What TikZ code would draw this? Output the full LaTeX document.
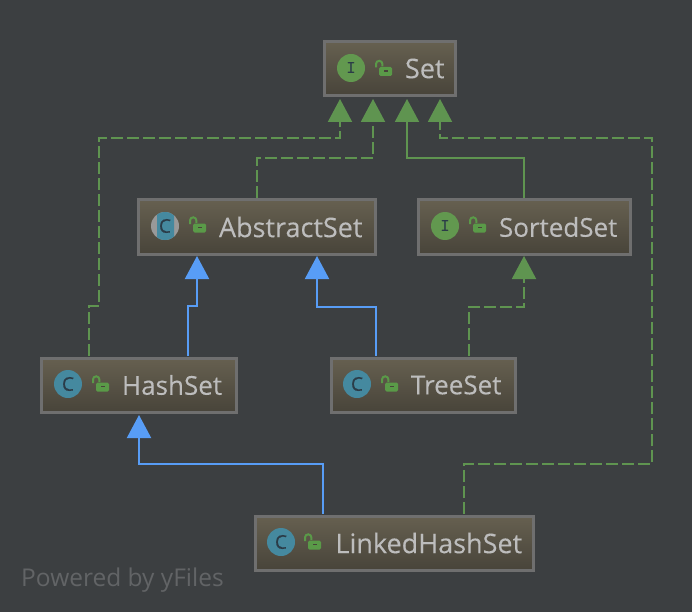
\documentclass[tikz,border=0pt]{standalone}
\usepackage{fontspec}
\setmainfont{Open Sans}
\newfontfamily\lblfont[FakeBold=0.12]{Open Sans}
\newfontfamily\iconfont[FakeBold=0.5]{Open Sans}
\usetikzlibrary{arrows.meta,positioning}
\definecolor{bgc}{HTML}{3C3F41}
\definecolor{boxtop}{HTML}{666050}
\definecolor{boxbot}{HTML}{48443A}
\definecolor{boxline}{HTML}{6F6F6F}
\definecolor{txtc}{HTML}{BDBDBD}
\definecolor{grn}{HTML}{62984F}
\definecolor{grnline}{HTML}{5F9450}
\definecolor{lockg}{HTML}{5A9A48}
\definecolor{blu}{HTML}{589DF6}
\definecolor{teal}{HTML}{45899F}
\definecolor{iconink}{HTML}{2B3C48}
\definecolor{wmark}{HTML}{626466}
\tikzset{
  x=1pt,y=-1pt,
  umlbox/.style={draw=boxline,line width=3pt,top color=boxtop,bottom color=boxbot,
    minimum height=54pt,inner sep=0pt,anchor=west,align=left,text=txtc,
    font=\lblfont\fontsize{27}{30}\selectfont},
  narrowlabel/.style={font=\lblfont\fontsize{26}{30}\selectfont},
  badge/.style={circle,minimum size=28pt,inner sep=0pt,text=iconink,font=\iconfont\fontsize{19}{22}\selectfont},
  ibadge/.style={badge,fill=grn,font=\fontsize{18}{20}\selectfont\bfseries\ttfamily},
  cbadge/.style={badge,fill=teal},
  realize/.style={draw=grnline,line width=2pt,dash pattern=on 12pt off 4pt,-{Triangle[length=23pt,width=24pt,fill=grnline,sep=0pt]}},
  extendg/.style={draw=grnline,line width=2pt,-{Triangle[length=23pt,width=24pt,fill=grnline]}},
  extendb/.style={draw=blu,line width=2pt,-{Triangle[length=23pt,width=24pt,fill=blu]}},
  lockbody/.style={fill=lockg,rounded corners=1.5pt},
  lockarc/.style={draw=lockg,line width=2pt},
  watermark/.style={text=wmark,anchor=west,inner sep=0pt,font=\fontsize{24.5}{28}\selectfont}
}
% \lockat{name}{x}{y}: small open padlock, (x,y) = centre of its body
\newcommand{\lockat}[3]{%
  \coordinate (#1) at (#2,#3);
  \draw[lockarc] ([shift={(-7,-3)}]#1) -- ++(0,-3.5) arc[start angle=180,end angle=0,radius=3.2pt] -- ++(0,2.5);
  \fill[lockbody] ([shift={(-4,-3.5)}]#1) rectangle ([shift={(9,5.5)}]#1);
  \fill[boxbot] ([shift={(1,-0.5)}]#1) rectangle ([shift={(4.5,1.2)}]#1);
}
\begin{document}
\begin{tikzpicture}
\path[fill=bgc,use as bounding box] (0,0) rectangle (692,612);

\node[umlbox,text width=131pt] (set) at (323,68.5) {\hspace*{80.5pt}Set};
\node[umlbox,text width=237.5pt] (abs) at (136.5,227) {\hspace*{81pt}\mbox{AbstractSet}};
\node[umlbox,narrowlabel,text width=212pt] (sorted) at (416.5,227) {\hspace*{81pt}\mbox{SortedSet}};
\node[umlbox,narrowlabel,text width=195pt] (hash) at (40,385) {\hspace*{80.5pt}\mbox{HashSet}};
\node[umlbox,narrowlabel,text width=184pt] (tree) at (329.5,385) {\hspace*{80pt}\mbox{TreeSet}};
\node[umlbox,text width=278.5pt] (linked) at (253.5,543) {\hspace*{80.5pt}\mbox{LinkedHashSet}};

% icons
\node[ibadge] (iset) at (351,68) {I};
\lockat{lset}{383}{70.5}
\begin{scope}
  \fill[black!40!white] (165,226) circle (14pt);
  \clip (157,212) rectangle (174,240);
  \fill[teal] (165,226) circle (14pt);
\end{scope}
\node[badge] (iabs) at (165,226) {C};
\lockat{labs}{197}{227}
\node[ibadge] (isorted) at (445,226) {I};
\lockat{lsorted}{477}{227}
\node[cbadge] (ihash) at (68,384) {C};
\lockat{lhash}{100}{386}
\node[cbadge] (itree) at (357,384) {C};
\lockat{ltree}{389}{386}
\node[cbadge] (ilinked) at (281,542) {C};
\lockat{llinked}{312}{544}

% anchors on the box edges
\coordinate (s1) at (340,99);
\coordinate (s2) at (373,99);
\coordinate (s3) at (407,99);
\coordinate (s4) at (440,99);
\coordinate (a1) at (197,256);
\coordinate (a2) at (317,256);
\coordinate (a3) at (257,198);
\coordinate (so1) at (524,256);
\coordinate (so2) at (524,198);
\coordinate (h1) at (139,415);
\coordinate (h2) at (89,356);
\coordinate (h3) at (188,356);
\coordinate (t1) at (376,356);
\coordinate (t2) at (469,356);
\coordinate (k1) at (323,514);
\coordinate (k2) at (464,514);

% connectors
\draw[realize] (h2) -- (89,306) -- (99,306) -- (99,138) -- (340,138) -- (s1);
\draw[realize] (a3) -- (257,158) -- (373,158) -- (s2);
\draw[extendg] (so2) -- (524,158) -- (407,158) -- (s3);
\draw[realize] (k2) -- (464,464) -- (652,464) -- (652,138) -- (440,138) -- (s4);
\draw[extendb] (h3) -- (188,306) -- (197,306) -- (a1);
\draw[extendb] (t1) -- (376,307) -- (317,307) -- (a2);
\draw[realize] (t2) -- (469,307) -- (524,307) -- (so1);
\draw[extendb] (k1) -- (323,464) -- (139,464) -- (h1);

\node[watermark] (wm) at (21,580) {Powered by yFiles};
\end{tikzpicture}
\end{document}
